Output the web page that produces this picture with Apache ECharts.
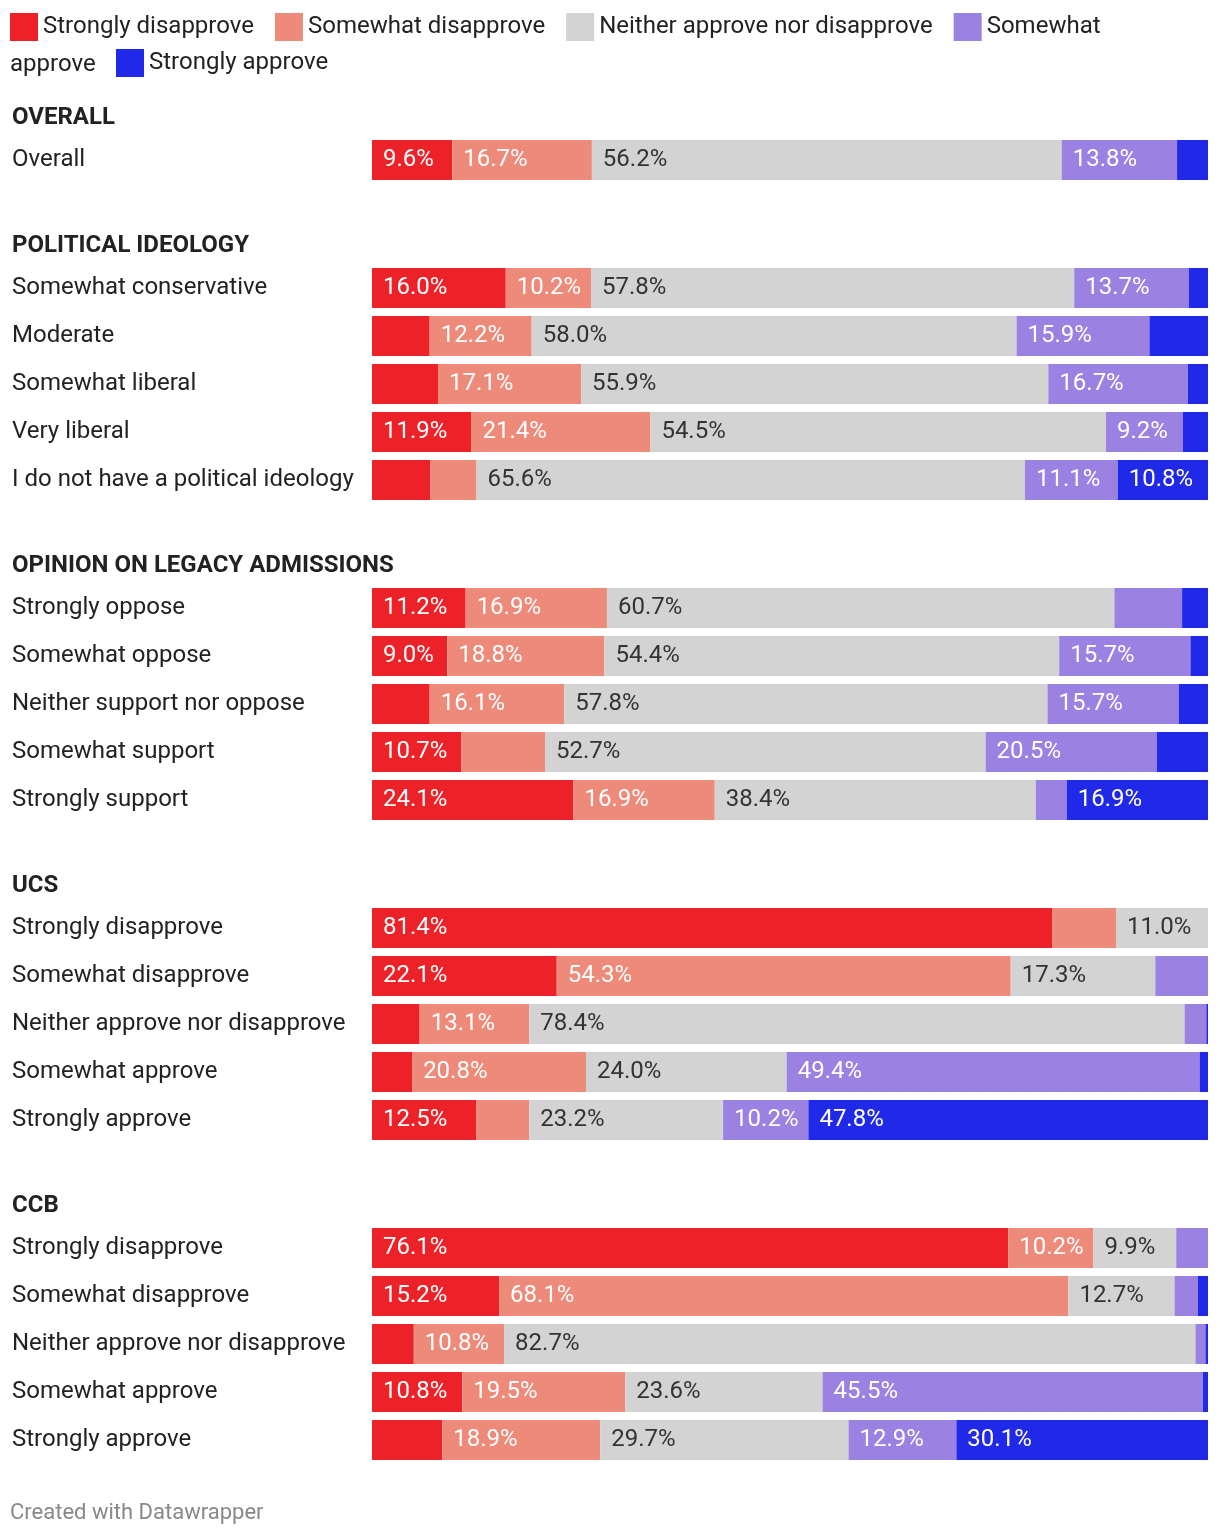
<!DOCTYPE html>
<html>
<head>
<meta charset="utf-8">
<script src="https://cdn.jsdelivr.net/npm/echarts@6/dist/echarts.min.js"></script>
<style>
  html, body { margin: 0; padding: 0; background: #ffffff; }
  #chart { width: 1220px; height: 1538px; }
</style>
</head>
<body>
<div id="chart"></div>
<script>
// ---- DATA ----
const levels = ["Strongly disapprove", "Somewhat disapprove", "Neither approve nor disapprove", "Somewhat approve", "Strongly approve"];
const groupTitles = ["OVERALL", "POLITICAL IDEOLOGY", "OPINION ON LEGACY ADMISSIONS", "UCS", "CCB"];

const overallCats = ["Overall"];
const overallValues = [[9.6, 16.7, 56.2, 13.8, 3.7]];

const ideologyCats = ["Somewhat conservative", "Moderate", "Somewhat liberal", "Very liberal", "I do not have a political ideology"];
const ideologyValues = [
  [16.0, 10.2, 57.8, 13.7, 2.3],
  [6.9, 12.2, 58.0, 15.9, 7.0],
  [7.9, 17.1, 55.9, 16.7, 2.4],
  [11.9, 21.4, 54.5, 9.2, 3.0],
  [7.0, 5.5, 65.6, 11.1, 10.8]
];

const legacyCats = ["Strongly oppose", "Somewhat oppose", "Neither support nor oppose", "Somewhat support", "Strongly support"];
const legacyValues = [
  [11.2, 16.9, 60.7, 8.1, 3.1],
  [9.0, 18.8, 54.4, 15.7, 2.1],
  [6.9, 16.1, 57.8, 15.7, 3.5],
  [10.7, 10.0, 52.7, 20.5, 6.1],
  [24.1, 16.9, 38.4, 3.7, 16.9]
];

const ucsCats = ["Strongly disapprove", "Somewhat disapprove", "Neither approve nor disapprove", "Somewhat approve", "Strongly approve"];
const ucsValues = [
  [81.4, 7.6, 11.0, 0, 0],
  [22.1, 54.3, 17.3, 6.3, 0],
  [5.7, 13.1, 78.4, 2.6, 0.2],
  [4.8, 20.8, 24.0, 49.4, 1.0],
  [12.5, 6.3, 23.2, 10.2, 47.8]
];

const ccbCats = ["Strongly disapprove", "Somewhat disapprove", "Neither approve nor disapprove", "Somewhat approve", "Strongly approve"];
const ccbValues = [
  [76.1, 10.2, 9.9, 3.8, 0],
  [15.2, 68.1, 12.7, 2.8, 1.2],
  [5.0, 10.8, 82.7, 1.2, 0.3],
  [10.8, 19.5, 23.6, 45.5, 0.6],
  [8.4, 18.9, 29.7, 12.9, 30.1]
];

// ---- STYLE / LAYOUT ----
const colors = ["#ed2229", "#ee8a79", "#d3d3d3", "#9a81e2", "#2129e9"];
const labelColors = ["#ffffff", "#ffffff", "#333333", "#ffffff", "#ffffff"];
const groups = [
  { title: groupTitles[0], cats: overallCats, values: overallValues, barTop: 140 },
  { title: groupTitles[1], cats: ideologyCats, values: ideologyValues, barTop: 268 },
  { title: groupTitles[2], cats: legacyCats, values: legacyValues, barTop: 588 },
  { title: groupTitles[3], cats: ucsCats, values: ucsValues, barTop: 908 },
  { title: groupTitles[4], cats: ccbCats, values: ccbValues, barTop: 1228 }
];
const FONT = 'Roboto, "Noto Sans", sans-serif';
const FS = 24;
const ROW = 48;
const GRID_LEFT = 372, GRID_RIGHT = 12;
const pxPerPct = (1220 - GRID_LEFT - GRID_RIGHT) / 100;

function fmt(v) { return v.toFixed(1) + '%'; }
function labelFits(v) {
  const need = fmt(v).length * 12.5 + 22;
  return v * pxPerPct >= need;
}

const grid = [], xAxis = [], yAxis = [], series = [], title = [];
groups.forEach((g, gi) => {
  grid.push({ left: GRID_LEFT, right: GRID_RIGHT, top: g.barTop - 4, height: g.cats.length * ROW, containLabel: false });
  xAxis.push({ type: 'value', gridIndex: gi, min: 0, max: 100, show: false });
  yAxis.push({
    type: 'category', gridIndex: gi, inverse: true, data: g.cats,
    axisLine: { show: false }, axisTick: { show: false }, splitLine: { show: false },
    axisLabel: { align: 'left', margin: GRID_LEFT - 12, fontSize: FS, color: '#222222', fontFamily: FONT, padding: [4, 0, 0, 0] }
  });
  title.push({
    text: g.title, left: 12, top: g.barTop - 24 - 12, padding: 0,
    textStyle: { fontSize: FS, fontWeight: 'bold', color: '#222222', fontFamily: FONT, lineHeight: 28 }
  });
  levels.forEach((lv, k) => {
    series.push({
      type: 'bar', name: lv, stack: 'g' + gi, xAxisIndex: gi, yAxisIndex: gi,
      barWidth: 40, itemStyle: { color: colors[k] },
      emphasis: { disabled: true },
      label: {
        show: true, position: 'insideLeft', distance: 11,
        color: labelColors[k], fontSize: FS, fontFamily: FONT, padding: [4, 0, 0, 0],
        formatter: p => fmt(p.value)
      },
      data: g.values.map(row => ({ value: row[k], label: { show: labelFits(row[k]) } }))
    });
  });
});

const chart = echarts.init(document.getElementById('chart'), null, { renderer: 'canvas' });
chart.setOption({
  animation: false,
  backgroundColor: '#ffffff',
  color: colors,
  title: title,
  legend: [
    {
      left: 10, top: 13, padding: 0, itemWidth: 28, itemHeight: 28, itemGap: 21, icon: 'rect',
      data: levels.slice(0, 4),
      formatter: n => n === 'Somewhat approve' ? 'Somewhat' : n,
      textStyle: { fontSize: FS, color: '#222222', fontFamily: FONT, padding: [3, 0, 0, 0] }
    },
    {
      left: 116, top: 49, padding: 0, itemWidth: 28, itemHeight: 28, icon: 'rect',
      data: [levels[4]],
      textStyle: { fontSize: FS, color: '#222222', fontFamily: FONT, padding: [3, 0, 0, 0] }
    }
  ],
  graphic: [
    { type: 'text', left: 10, top: 51, style: { text: 'approve', fontSize: FS, fill: '#222222', fontFamily: FONT, lineHeight: 28 } },
    { type: 'text', left: 10, top: 1500, style: { text: 'Created with Datawrapper', fontSize: 22, fill: '#888888', fontFamily: FONT, lineHeight: 26 } }
  ],
  grid: grid,
  xAxis: xAxis,
  yAxis: yAxis,
  series: series
});
</script>
</body>
</html>
